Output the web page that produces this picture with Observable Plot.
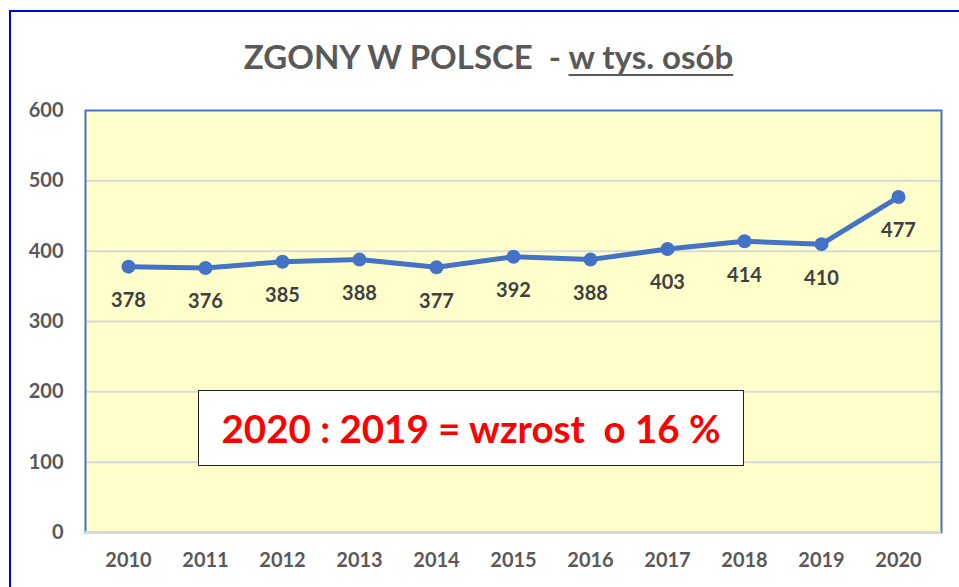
<!DOCTYPE html>
<html><head><meta charset="utf-8">
<script src="https://cdn.jsdelivr.net/npm/d3@7"></script>
<script src="https://cdn.jsdelivr.net/npm/@observablehq/plot@0.6"></script>
<style>
html,body{margin:0;padding:0;background:#fff;overflow:hidden;width:959px;height:587px;}
#wrap{position:relative;width:959px;height:587px;font-family:Lato,"Open Sans",sans-serif;}
#outer{position:absolute;left:9px;top:10px;width:1000px;height:1000px;border:2px solid #0000dd;box-sizing:border-box;pointer-events:none;}
#title{position:absolute;left:9px;width:959px;top:36px;line-height:40px;text-align:center;font-weight:bold;font-size:33px;color:#595959;white-space:pre;}
#title u{text-decoration-thickness:2px;text-underline-offset:5px;text-decoration-skip-ink:none;}
#note{position:absolute;left:198px;top:390px;width:546px;height:76px;box-sizing:border-box;background:#fff;border:1px solid #222;color:#ff0000;font-weight:bold;font-size:38.5px;display:flex;align-items:center;justify-content:center;white-space:pre;}
#chart{position:absolute;left:0;top:0;}
</style></head>
<body><div id="wrap"><div id="chart"></div><div id="outer"></div>
<div id="title">ZGONY W POLSCE  - <u>w tys. osób</u></div>
<div id="note">2020 : 2019 = wzrost  o 16 %</div>
</div>
<script>
const years = ["2010","2011","2012","2013","2014","2015","2016","2017","2018","2019","2020"];
const deaths = [378,376,385,388,377,392,388,403,414,410,477];
const yTicks = [0,100,200,300,400,500,600];
const data = years.map((y,i)=>({year:y, value:deaths[i]}));

const chart = Plot.plot({
  width:959, height:587,
  marginLeft:85, marginRight:18, marginTop:110, marginBottom:55,
  style:{fontFamily:"Lato, 'Open Sans', sans-serif", background:"transparent"},
  x:{type:"point", domain:years, padding:0.5, label:null},
  y:{domain:[0,600], label:null, ticks:yTicks},
  marks:[
    Plot.frame({fill:"#ffffcc", stroke:null}),
    Plot.gridY(yTicks.filter(t=>t>0 && t<600), {stroke:"#d9d9d9", strokeOpacity:1, strokeWidth:2}),
    Plot.frame({stroke:"#4472c4", strokeWidth:2}),
    Plot.ruleY([0], {stroke:"#d9d9d9", strokeWidth:3}),
    Plot.axisY(yTicks, {tickSize:0, tickPadding:22, fontSize:20, fontWeight:"bold", fill:"#595959", label:null}),
    Plot.axisX({tickSize:0, tickPadding:20, fontSize:20, fontWeight:"bold", fill:"#595959", label:null}),
    Plot.line(data, {x:"year", y:"value", stroke:"#4472c4", strokeWidth:5}),
    Plot.dot(data, {x:"year", y:"value", r:7, fill:"#4472c4", stroke:null}),
    Plot.text(data, {x:"year", y:"value", text:d=>String(d.value), dy:34, fontSize:20, fontWeight:"bold", fill:"#404040"})
  ]
});
document.getElementById("chart").appendChild(chart);
</script></body></html>
